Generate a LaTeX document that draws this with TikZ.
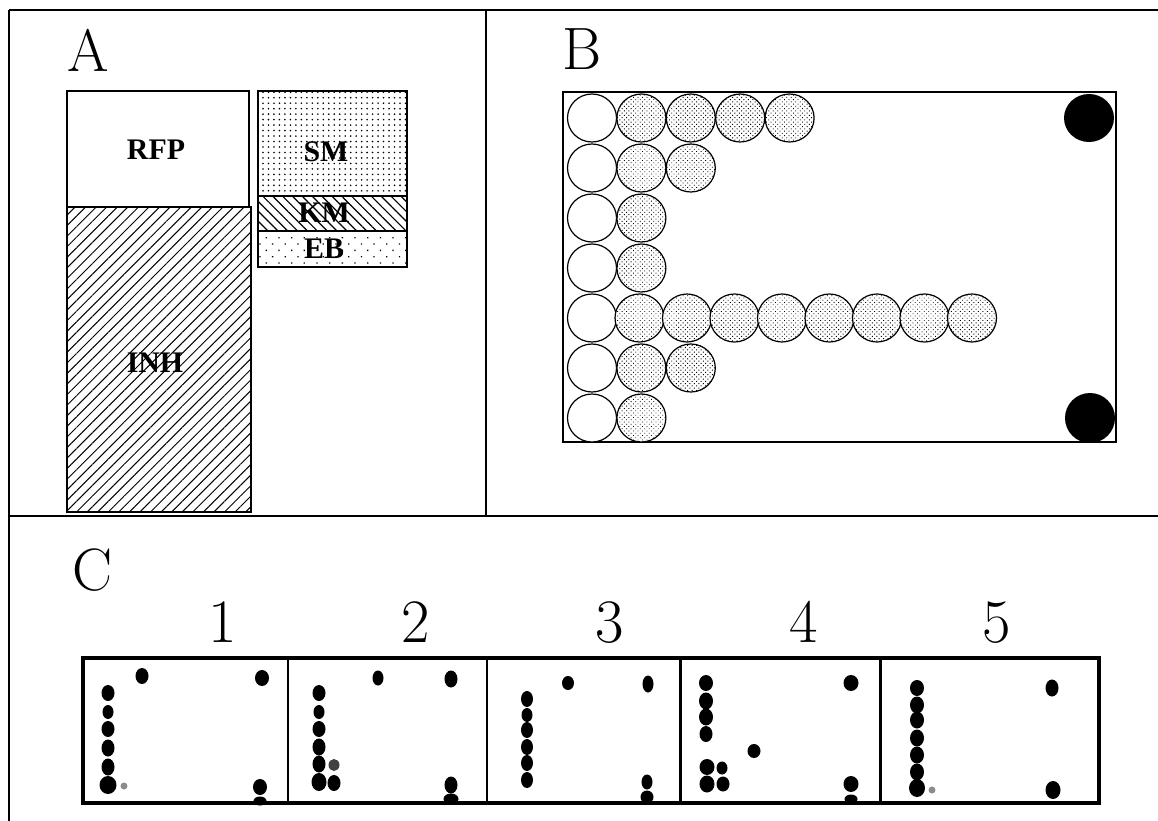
\documentclass[tikz,border=0pt]{standalone}
\usepackage{fontspec}
\newfontfamily\tnr{Liberation Serif}
\usetikzlibrary{patterns.meta}

% filled spot of panel C: x, y, x radius, y radius (in bp)
\newcommand\spotat[4]{\fill (#1,#2) ellipse [x radius=#3bp, y radius=#4bp];}
\newcommand\greyspot[4]{\fill[black!45] (#1,#2) ellipse [x radius=#3bp, y radius=#4bp];}

\tikzset{
  panel/.style={font=\fontsize{60}{60}\selectfont, inner sep=0pt, anchor=base west},
  digit/.style={font=\fontsize{62}{62}\selectfont, inner sep=0pt, anchor=base},
  barlabel/.style={font={\tnr\bfseries\fontsize{30}{30}\selectfont}, inner sep=0pt},
  bar/.style={draw, line width=1.3pt},
  frameline/.style={line width=1.2pt},
  plate/.style={draw, line width=1.1pt},
  emptycell/.style={draw, line width=1.2pt, fill=white},
  seedcell/.style={draw, line width=1.2pt, preaction={fill=white},
    pattern={Dots[distance=3.2pt, radius=0.65pt, angle=45]}},
  wellbox/.style={draw, line width=3.2pt},
}

\begin{document}
\begin{tikzpicture}[x=1bp, y=-1bp]
\useasboundingbox (0,0) rectangle (1158,821);
\fill[white] (0,0) rectangle (1158,821);

% ---- panel frames
\draw[frameline] (9,10) -- (1158,10);
\draw[frameline] (9,10) -- (9,821);
\draw[frameline] (486,10) -- (486,516);
\draw[frameline] (9,516) -- (1158,516);

% ---- panel A: budget bars
\node[panel] (labA) at (67,72) {A};

\draw[bar] (67,91) rectangle (249,207);
\draw[bar, pattern={Lines[angle=45, distance=7.5pt, line width=1pt]}] (67,207) rectangle (251,512);
\draw[bar, pattern={Dots[distance=5.5pt, radius=0.9pt]}] (258,91) rectangle (407,196);
\draw[bar, pattern={Lines[angle=-45, distance=7pt, line width=1.2pt]}] (258,196) rectangle (407,231);
\draw[bar, pattern={Dots[distance=9pt, radius=0.9pt, angle=45]}] (258,231) rectangle (407,267);

\node[barlabel] (rfp) at (156,150) {RFP};
\node[barlabel] (inh) at (155,363) {INH};
\node[barlabel] (sm) at (326,152) {SM};
\node[barlabel] (km) at (324,213) {KM};
\node[barlabel] (eb) at (324,249) {EB};

% ---- panel B: plate with cells (row index / number of shaded cells / spacing)
\node[panel] (labB) at (562,70) {B};
\draw[plate] (563,92) rectangle (1116,442);

\foreach \r/\n/\dx in {0/4/49.4,1/2/49.4,2/1/49.4,3/1/49.4,4/8/47.5,5/2/49.4,6/1/49.4}{
  \draw[emptycell] (592,{118+50*\r}) ellipse [x radius=24.5bp, y radius=24bp];
  \foreach \k in {1,...,\n}{
    \draw[seedcell] ({592+\dx*\k},{118+50*\r}) ellipse [x radius=24.5bp, y radius=24bp];
  }
}
\fill (1089,118) ellipse [x radius=25bp, y radius=24bp];
\fill (1090,418) ellipse [x radius=25bp, y radius=25bp];

% ---- panel C: five wells
\node[panel] (labC) at (72,590) {C};
\node[digit] (n1) at (223,642) {1};
\node[digit] (n2) at (416,642) {2};
\node[digit] (n3) at (610,642) {3};
\node[digit] (n4) at (804,642) {4};
\node[digit] (n5) at (997,642) {5};

\draw[wellbox] (83,658) rectangle (1099,803);
\foreach \xd in {288,487,680,880}{
  \draw[line width=3pt] (\xd,658) -- (\xd,803);
}

% well 1
\spotat{142}{676}{6.5}{8}
\spotat{262}{678}{7}{8}
\spotat{108}{693}{6.5}{8}
\spotat{108}{712}{5.5}{7}
\spotat{108}{729}{6.5}{8}
\spotat{108}{748}{6.5}{8.5}
\spotat{108}{767}{6.5}{8.5}
\spotat{108}{785}{8.5}{9}
\greyspot{124}{786}{3.5}{3.5}
\spotat{260}{787}{7}{8}
\spotat{260}{801}{6.5}{4.5}

% well 2
\spotat{378}{678}{5.5}{7.5}
\spotat{451}{679}{6.5}{8.5}
\spotat{319}{693}{6.5}{8}
\spotat{319}{712}{5.5}{7}
\spotat{319}{729}{6.5}{8}
\spotat{319}{747}{6.5}{8.5}
\spotat{319}{764}{6.5}{8.5}
\spotat{319}{782}{7.5}{9}
\fill[black!75] (334,765) ellipse [x radius=5.5bp, y radius=6bp];
\spotat{334}{783}{6.5}{8}
\spotat{451}{785}{6.5}{8.5}
\spotat{451}{799}{7.5}{5.5}

% well 3
\spotat{568}{683}{6}{7}
\spotat{648}{684}{5.5}{8.5}
\spotat{527}{699}{6}{8}
\spotat{527}{715}{5.5}{7}
\spotat{527}{730}{6}{8}
\spotat{527}{747}{6}{8}
\spotat{527}{763}{6}{8}
\spotat{527}{780}{6}{8}
\spotat{647}{782}{5.5}{7.5}
\spotat{647}{797}{6.5}{6.5}

% well 4
\spotat{851}{683}{7.5}{8}
\spotat{706}{683}{7}{8}
\spotat{706}{701}{7}{8.5}
\spotat{706}{717}{7}{8.5}
\spotat{706}{734}{6.5}{8}
\spotat{754}{751}{6.5}{7}
\spotat{707}{767}{7.5}{8}
\spotat{707}{784}{7.5}{8.5}
\spotat{722}{768}{5.5}{6.5}
\spotat{723}{784}{6.5}{7.5}
\spotat{851}{784}{7.5}{8}
\spotat{851}{799}{6.5}{4.5}

% well 5
\spotat{1052}{688}{6.5}{8.5}
\spotat{917}{688}{7}{8}
\spotat{917}{705}{7}{8.5}
\spotat{917}{720}{7}{8.5}
\spotat{917}{738}{7}{8.5}
\spotat{917}{755}{7}{8.5}
\spotat{917}{772}{7}{8.5}
\spotat{917}{788}{8}{9}
\greyspot{932}{790}{3.5}{3.5}
\spotat{1053}{790}{7.5}{9}
\end{tikzpicture}
\end{document}
